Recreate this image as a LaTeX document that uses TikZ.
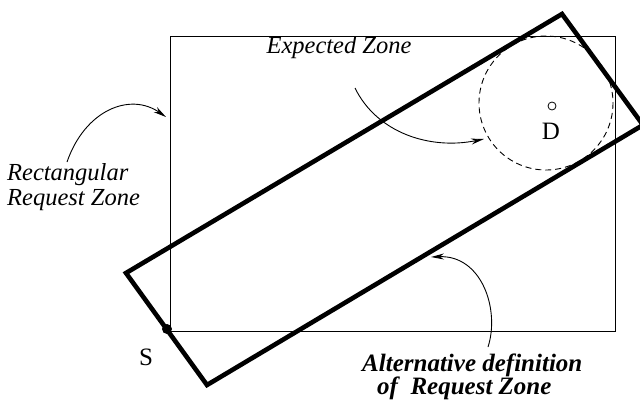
\documentclass[tikz,border=0pt]{standalone}
\usepackage{fontspec}
\setmainfont{Liberation Serif}
\usetikzlibrary{arrows.meta}
\tikzset{
  thinbox/.style={draw, line width=0.9pt},
  thickbox/.style={draw, line width=4.6pt, line join=miter},
  zonecircle/.style={draw, line width=0.9pt, dash pattern=on 6pt off 4pt},
  pointer/.style={draw, line width=0.9pt, -{Stealth[length=13pt,width=6pt]}},
  lab/.style={font=\fontsize{24.5}{25}\selectfont\itshape, inner sep=0pt},
  boldlab/.style={font=\fontsize{25}{23}\selectfont\bfseries\itshape, inner sep=0pt},
  plain/.style={font=\fontsize{25}{25}\selectfont, inner sep=0pt}
}
\begin{document}
\begin{tikzpicture}[x=1pt,y=-1pt]
\useasboundingbox (0,0) rectangle (640,407);
% thin rectangular request zone
\coordinate (rtl) at (170,36);
\coordinate (rbr) at (615,331);
\draw[thinbox] (rtl) rectangle (rbr);
% thick rotated request zone
\coordinate (c1) at (126,273);
\coordinate (c2) at (562,14);
\coordinate (c3) at (643,125);
\coordinate (c4) at (207,385);
\begin{scope}
\clip (0,0) rectangle (640,407);
\draw[thickbox] (c1) -- (c2) -- (c3) -- (c4) -- cycle;
\end{scope}
% expected zone circle
\coordinate (ctr) at (546,103);
\draw[zonecircle] (ctr) circle[radius=67];
% destination
\node[draw, circle, line width=0.8pt, minimum size=8pt, inner sep=0pt] (dpt) at (552,106) {};
\node[plain] (D) at (551,131) {D};
% source
\node[circle, fill, minimum size=10pt, inner sep=0pt] (spt) at (167,329) {};
\node[plain] (S) at (146,357) {S};
% labels
\node[lab] (exp) at (339,48) {Expected Zone};
\node[lab, align=left, anchor=west] (rect) at (7,187) {Rectangular\\Request Zone};
\node[boldlab, align=left, anchor=north west] (alt) at (362,354) {Alternative definition\\\hspace*{15pt}of~~Request Zone};
% pointers
\coordinate (r0) at (67,162);
\coordinate (r1) at (166,117);
\draw[pointer] (r0) .. controls (85,110) and (130,92) .. (r1);
\coordinate (e0) at (355,88);
\coordinate (e1) at (484,139);
\draw[pointer] (e0) .. controls (377,133) and (430,150) .. (e1);
\coordinate (a0) at (488,347);
\coordinate (a1) at (431,257);
\draw[pointer] (a0) .. controls (500,310) and (482,255) .. (a1);
\end{tikzpicture}
\end{document}
